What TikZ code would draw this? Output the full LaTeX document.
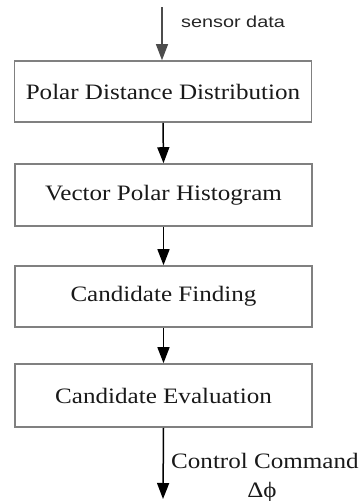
\documentclass[tikz,border=0pt]{standalone}
\usepackage{fontspec}
\setmainfont{Liberation Serif}
\newfontfamily\labelsans{Liberation Sans}
\usepackage{graphicx}
\usetikzlibrary{arrows.meta}
\newcommand\stretchtext[2][1.14]{\scalebox{#1}[1]{#2}}
\begin{document}
\begin{tikzpicture}[x=1pt,y=-1pt,
  box/.style={draw=black!50, line width=1.6pt, minimum width=297pt,
    inner sep=0pt, font=\fontsize{22}{25}\selectfont, text=black!90},
  flow/.style={line width=1.5pt, draw=black, -{Triangle[length=16pt,width=12pt]}},
  inflow/.style={line width=1.1pt, draw=black!70, -{Triangle[length=16pt,width=12pt]}},
  lab/.style={inner sep=0pt, font=\fontsize{22}{25}\selectfont, text=black!90},
  slab/.style={inner sep=0pt, font=\labelsans\fontsize{16}{19}\selectfont, text=black!85},
]
\useasboundingbox (0,0) rectangle (360,501);
\node[box, minimum height=61pt] (b1) at (163,91.5) {\stretchtext{Polar Distance Distribution}};
\node[box, minimum height=62pt] (b2) at (163.5,195) {\stretchtext{Vector Polar Histogram}};
\node[box, minimum height=61pt] (b3) at (163.5,296.5) {\stretchtext{Candidate Finding}};
\node[box, minimum height=63pt] (b4) at (163.5,395.5) {\stretchtext{Candidate Evaluation}};
\coordinate (top) at (162,7);
\coordinate (out) at (163,499);
\draw[inflow] (top) -- (top|-b1.north);
\draw[flow] (b1.south) -- (b2.north);
\draw[flow] (b2.south) -- (b3.north);
\draw[flow] (b3.south) -- (b4.north);
\draw[flow] (b4.south) -- (out);
\node[slab, anchor=base west] (sd) at (181,27) {\stretchtext[1.24]{sensor data}};
\node[lab, anchor=base west] (cc) at (171,468) {\stretchtext{Control Command}};
\node[lab, anchor=base] (dphi) at (262,497) {\stretchtext{Δϕ}};
\end{tikzpicture}
\end{document}
